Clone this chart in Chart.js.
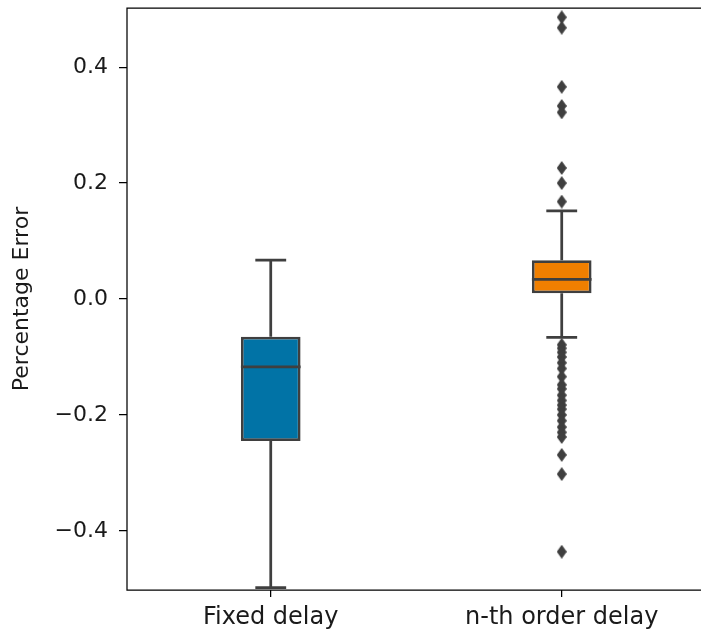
<!DOCTYPE html>
<html>
<head>
<meta charset="utf-8">
<script src="https://cdn.jsdelivr.net/npm/chart.js@4.4.0/dist/chart.umd.min.js"></script>
<style>
body { margin: 0; overflow: hidden; background: #fff; }
canvas { display: block; }
</style>
</head>
<body>
<canvas id="boxChart" width="701" height="635"></canvas>
<script>
var categories = ['Fixed delay', 'n-th order delay'];
var q1 = [-0.245, 0.010];
var median = [-0.117, 0.034];
var q3 = [-0.065, 0.067];
var whiskerLow = [-0.498, -0.066];
var whiskerHigh = [0.067, 0.152];
var outliersHigh = [[], [0.486, 0.468, 0.366, 0.333, 0.322, 0.226, 0.200, 0.168]];
var outliersLow = [[], [-0.079, -0.085, -0.092, -0.100, -0.110, -0.120, -0.134, -0.148, -0.155, -0.166,
                        -0.175, -0.183, -0.190, -0.200, -0.210, -0.221, -0.230, -0.238, -0.269, -0.302, -0.436]];
var yTicks = [-0.4, -0.2, 0.0, 0.2, 0.4];

var boxColors = ['#0173a6', '#f07f00'];
var lineColor = '#3f3f3f';
var boxHalf = 0.1025;
var capHalf = 0.053;

// boxes as floating bars
var boxData = categories.map(function(c, i) {
    return {x: i, y: [q1[i], q3[i]]};
});

// whiskers, caps and medians as one broken line
var lineData = [];
categories.forEach(function(c, i) {
    lineData.push({x: i, y: q3[i]}, {x: i, y: whiskerHigh[i]}, {x: i, y: null});
    lineData.push({x: i - capHalf, y: whiskerHigh[i]}, {x: i + capHalf, y: whiskerHigh[i]}, {x: i, y: null});
    lineData.push({x: i, y: q1[i]}, {x: i, y: whiskerLow[i]}, {x: i, y: null});
    lineData.push({x: i - capHalf, y: whiskerLow[i]}, {x: i + capHalf, y: whiskerLow[i]}, {x: i, y: null});
    lineData.push({x: i - boxHalf, y: median[i]}, {x: i + boxHalf, y: median[i]}, {x: i, y: null});
});

var outlierData = [];
categories.forEach(function(c, i) {
    outliersHigh[i].concat(outliersLow[i]).forEach(function(v) {
        outlierData.push({x: i, y: v});
    });
});

// thin diamond marker
var dia = document.createElement('canvas');
dia.width = 10; dia.height = 14;
var dctx = dia.getContext('2d');
dctx.fillStyle = lineColor;
dctx.beginPath();
dctx.moveTo(5, 0); dctx.lineTo(10, 7); dctx.lineTo(5, 14); dctx.lineTo(0, 7);
dctx.closePath();
dctx.fill();

// left, top and bottom spines (the right one falls outside the picture)
var framePlugin = {
    id: 'frame',
    afterDraw: function(chart) {
        var a = chart.chartArea, ctx = chart.ctx;
        ctx.save();
        ctx.strokeStyle = '#000';
        ctx.lineWidth = 1.25;
        ctx.beginPath();
        ctx.moveTo(chart.width, a.top);
        ctx.lineTo(a.left, a.top);
        ctx.lineTo(a.left, a.bottom);
        ctx.lineTo(chart.width, a.bottom);
        ctx.stroke();
        ctx.restore();
    }
};

function fmt(v) {
    return (v < 0 ? '\u2212' : '') + Math.abs(v).toFixed(1);
}

Chart.defaults.font.family = 'DejaVu Sans';
Chart.defaults.color = '#1a1a1a';

var ctx = document.getElementById('boxChart').getContext('2d');
var chart = new Chart(ctx, {
    type: 'bar',
    data: {
        datasets: [{
            type: 'line',
            data: outlierData,
            showLine: false,
            pointStyle: dia,
            pointRadius: 5,
            order: 0
        }, {
            type: 'line',
            data: lineData,
            borderColor: lineColor,
            borderWidth: 2.75,
            pointRadius: 0,
            spanGaps: false,
            order: 1
        }, {
            type: 'bar',
            data: boxData,
            backgroundColor: boxColors,
            borderColor: lineColor,
            borderWidth: 2.75,
            borderSkipped: false,
            categoryPercentage: 1,
            barPercentage: 0.205,
            order: 2
        }]
    },
    options: {
        responsive: false,
        animation: false,
        layout: {padding: {top: 8, right: 0, bottom: 0, left: 0}},
        plugins: {legend: {display: false}, tooltip: {enabled: false}},
        scales: {
            x: {
                type: 'linear',
                min: -0.494,
                max: 1.458,
                offset: false,
                afterBuildTicks: function(s) {
                    s.ticks = categories.map(function(c, i) { return {value: i}; });
                },
                afterFit: function(s) {
                    s.height = 45;
                    s.paddingLeft = 0; s.paddingRight = 0;
                },
                ticks: {
                    autoSkip: false,
                    maxRotation: 0,
                    padding: 6,
                    font: {size: 24},
                    callback: function(v) { return categories[v]; }
                },
                grid: {drawOnChartArea: false, offset: false, color: '#000', tickLength: 7, lineWidth: 1.25},
                border: {display: false}
            },
            y: {
                min: -0.502,
                max: 0.502,
                afterBuildTicks: function(s) {
                    s.ticks = yTicks.map(function(v) { return {value: v}; });
                },
                afterFit: function(s) {
                    s.width = 127;
                    s.paddingTop = 0; s.paddingBottom = 0;
                },
                ticks: {
                    padding: 11,
                    font: {size: 22},
                    callback: function(v) { return fmt(v); }
                },
                title: {
                    display: true,
                    text: 'Percentage Error',
                    font: {size: 22},
                    padding: {top: 9, bottom: 0}
                },
                grid: {drawOnChartArea: false, color: '#000', tickLength: 8, lineWidth: 1.25},
                border: {display: false}
            }
        }
    },
    plugins: [framePlugin]
});
</script>
</body>
</html>
